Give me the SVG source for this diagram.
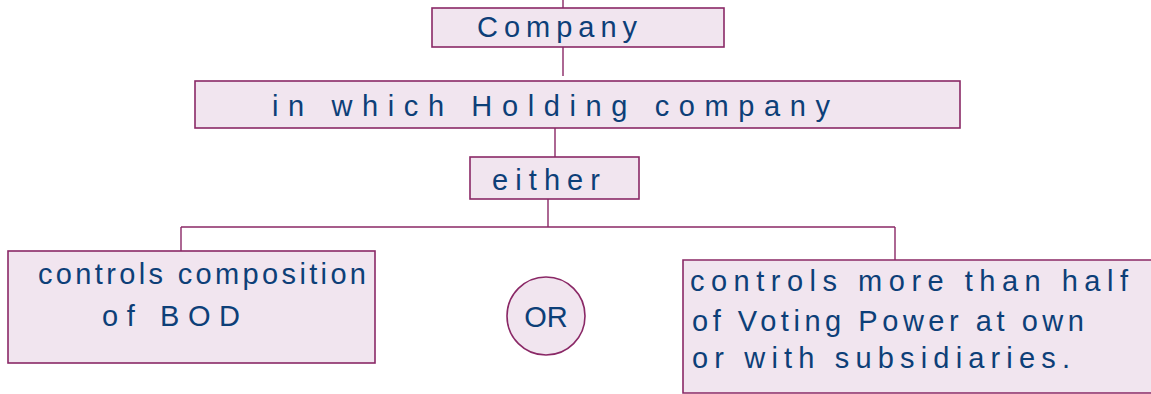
<svg xmlns="http://www.w3.org/2000/svg" width="1151" height="394" viewBox="0 0 1151 394">
<style>
.box{fill:#f1e5ef;stroke:#8a2866;stroke-width:1.6}
.ln{fill:none;stroke:#8a2866;stroke-width:1.4}
.t{font-family:"Liberation Sans","DejaVu Sans",sans-serif;fill:#0d3f78;font-size:29px}
</style>
<rect width="1151" height="394" fill="#ffffff"/>
<g id="connectors">
<path class="ln" d="M563 0V8M563 47V76M555 128V157M548 199V227M181 227H895M181 227V251M895 227V260"/>
</g>
<g id="n-company">
<rect class="box" x="432" y="8" width="292" height="39"/>
<text class="t" x="477" y="37" textLength="160" lengthAdjust="spacing">Company</text>
</g>
<g id="n-holding">
<rect class="box" x="195" y="81" width="765" height="47"/>
<text class="t" x="272" y="116" textLength="558" lengthAdjust="spacing">in  which  Holding  company</text>
</g>
<g id="n-either">
<rect class="box" x="470" y="157" width="169" height="42"/>
<text class="t" x="492" y="190" textLength="108" lengthAdjust="spacing">either</text>
</g>
<g id="n-left">
<rect class="box" x="8" y="251" width="367" height="112"/>
<text class="t" x="38" y="284" textLength="328" lengthAdjust="spacing">controls composition</text>
<text class="t" x="102" y="326" textLength="138" lengthAdjust="spacing">of BOD</text>
</g>
<g id="n-or">
<circle class="box" cx="546" cy="316" r="39"/>
<text class="t" x="546" y="327" text-anchor="middle">OR</text>
</g>
<g id="n-right">
<path class="box" d="M1152 260H683V393H1152"/>
<text class="t" x="690" y="291" textLength="438" lengthAdjust="spacing">controls more than half</text>
<text class="t" x="692" y="331" textLength="392" lengthAdjust="spacing">of Voting Power at own</text>
<text class="t" x="692" y="368" textLength="378" lengthAdjust="spacing">or with subsidiaries.</text>
</g>
</svg>
